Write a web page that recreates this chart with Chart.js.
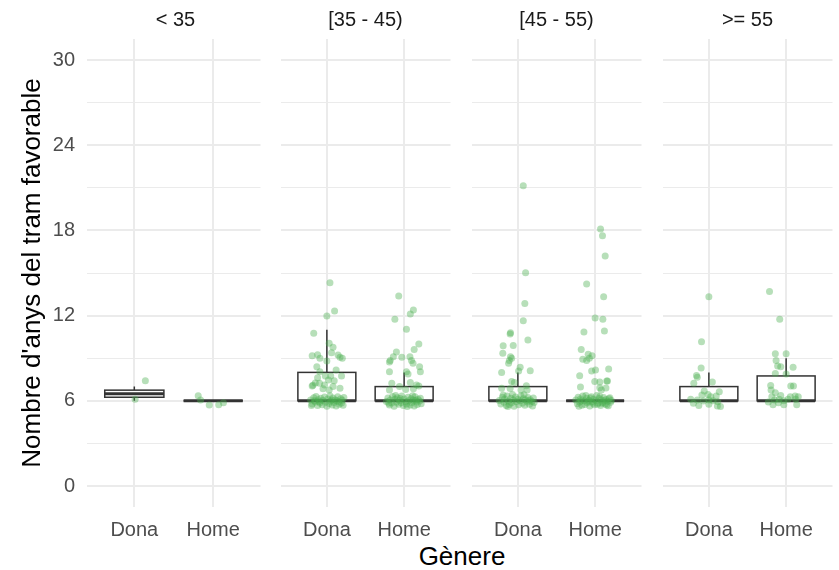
<!DOCTYPE html>
<html>
<head>
<meta charset="utf-8">
<script src="https://cdn.jsdelivr.net/npm/chart.js@4.4.1/dist/chart.umd.min.js"></script>
<style>
body { margin: 0; background: #fff; font-family: "Liberation Sans", Arial, sans-serif; }
#wrap { position: relative; width: 839px; height: 570px; overflow: hidden; background: #fff; }
#wrap canvas { position: absolute; top: 0; }
.strip { position: absolute; top: 7px; width: 177px; text-align: center; font-size: 20px; line-height: 24px; color: #1a1a1a; }
#xtitle { position: absolute; top: 541px; left: 87px; width: 750px; text-align: center; font-size: 26px; line-height: 30px; color: #000; }
</style>
</head>
<body>
<div id="wrap">
  <div id="xtitle">Gènere</div>
</div>
<script>
// facets (age groups) and categories
const facetLabels = ['< 35', '[35 - 45)', '[45 - 55)', '>= 55'];
const genders = ['Dona', 'Home'];
const yTickValues = [0, 3, 6, 9, 12, 15, 18, 21, 24, 27, 30];

// boxplot stats, one pair [Dona, Home] per facet
const boxLower    = [[6.25, 6], [6, 6], [6, 6], [6, 6]];
const boxMedian   = [[6.5, 6], [6, 6], [6, 6], [6, 6]];
const boxUpper    = [[6.75, 6], [8, 7], [7, 6], [7, 7.75]];
const whiskerLow  = [[6, 6], [6, 6], [6, 6], [6, 6]];
const whiskerHigh = [[7, 6], [11, 8], [8, 6], [8, 9]];

// jittered points: [x jitter, value]
const ptsLt35Dona = [[0.14, 7.42], [0.01, 6.1]];
const ptsLt35Home = [[-0.19, 6.36], [-0.16, 6.05], [-0.05, 5.7], [0.07, 5.72], [0.13, 5.87]];

const pts35Dona = [
  [0.04, 14.32], [0.10, 12.32], [0.0, 11.97], [-0.17, 10.75], [0.03, 10.05], [0.08, 9.77], [0.06, 9.39],
  [-0.19, 9.18], [-0.12, 9.24], [-0.09, 8.99], [0.145, 9.22], [0.17, 9.06], [0.2, 8.99], [0.0, 8.8],
  [-0.13, 8.4], [-0.09, 8.05], [0.12, 8.17], [-0.02, 7.75], [0.05, 7.75], [0.19, 7.75], [-0.12, 7.63],
  [0.02, 7.46], [0.095, 7.42], [-0.095, 7.23], [-0.03, 7.11], [-0.19, 7.04], [0.08, 7.0], [0.17, 6.88],
  [-0.05, 6.84], [0.03, 6.76], [-0.18, 7.09], [-0.15, 7.25],
  [-0.21, 6.05], [-0.19, 5.78], [-0.17, 6.22], [-0.15, 5.92], [-0.14, 6.31], [-0.12, 5.67], [-0.11, 6.08],
  [-0.09, 5.85], [-0.08, 6.18], [-0.06, 5.72], [-0.05, 6.02], [-0.03, 6.27], [-0.02, 5.9], [0.0, 5.62],
  [0.01, 6.12], [0.03, 5.81], [0.04, 6.35], [0.05, 5.97], [0.07, 5.7], [0.08, 6.2], [0.09, 5.88],
  [0.11, 6.05], [0.12, 5.64], [0.14, 6.28], [0.15, 5.93], [0.16, 5.76], [0.18, 6.14], [0.19, 5.84],
  [0.2, 6.03], [0.21, 5.69], [0.22, 6.24], [-0.2, 5.66], [-0.16, 6.0], [-0.1, 5.95], [0.06, 6.05], [0.13, 6.0]
];
const pts35Home = [
  [-0.07, 13.38], [0.12, 12.39], [0.08, 12.11], [-0.12, 11.74], [0.03, 11.03], [0.19, 10.0], [0.13, 9.62],
  [-0.1, 9.44], [-0.14, 9.11], [-0.03, 9.06], [0.075, 9.11], [-0.18, 8.83], [0.095, 8.83], [-0.19, 8.74],
  [0.115, 8.64], [0.2, 8.4], [0.21, 8.05], [-0.19, 8.05], [0.03, 8.05], [0.05, 7.89], [0.08, 7.28],
  [-0.16, 7.23], [0.16, 7.11], [0.19, 7.04], [-0.06, 7.0], [-0.19, 6.76], [0.02, 6.8], [0.12, 6.85],
  [-0.23, 5.95], [-0.21, 6.2], [-0.19, 5.7], [-0.18, 6.05], [-0.16, 5.85], [-0.15, 6.3], [-0.13, 5.62],
  [-0.12, 6.1], [-0.1, 5.9], [-0.09, 6.22], [-0.07, 5.75], [-0.06, 6.02], [-0.04, 5.86], [-0.03, 6.33],
  [-0.01, 5.66], [0.0, 6.12], [0.02, 5.94], [0.03, 5.78], [0.05, 6.25], [0.06, 6.0], [0.08, 5.7],
  [0.09, 6.15], [0.1, 5.88], [0.12, 6.06], [0.13, 5.63], [0.14, 6.28], [0.16, 5.92], [0.17, 5.74],
  [0.18, 6.1], [0.2, 5.98], [0.21, 6.18], [0.22, 5.8], [-0.2, 5.82], [-0.11, 6.38], [0.04, 5.6],
  [0.11, 6.36], [-0.05, 6.16], [0.15, 6.04]
];

const pts45Dona = [
  [0.07, 21.15], [0.1, 15.02], [0.09, 12.86], [0.07, 11.64], [0.13, 10.28], [-0.095, 10.8], [-0.1, 10.7],
  [-0.19, 9.88], [-0.06, 9.9], [-0.195, 9.34], [-0.095, 9.11], [-0.08, 9.0], [-0.11, 8.83], [-0.12, 8.64],
  [0.03, 8.36], [0.01, 8.1], [0.16, 8.12], [-0.21, 8.0], [-0.08, 7.35], [-0.045, 7.28], [0.11, 7.06],
  [-0.21, 6.88], [-0.1, 6.87], [0.04, 6.76], [0.12, 6.76],
  [-0.24, 6.02], [-0.22, 5.78], [-0.2, 6.25], [-0.18, 5.9], [-0.17, 6.12], [-0.15, 5.66], [-0.14, 6.33],
  [-0.12, 5.97], [-0.11, 5.74], [-0.09, 6.18], [-0.08, 5.86], [-0.06, 6.06], [-0.05, 5.62], [-0.03, 6.27],
  [-0.02, 5.93], [0.0, 6.1], [0.01, 5.72], [0.03, 6.0], [0.04, 6.36], [0.06, 5.83], [0.07, 6.15],
  [0.09, 5.68], [0.1, 6.05], [0.12, 5.91], [0.13, 6.24], [0.15, 5.76], [0.16, 6.08], [0.18, 5.95],
  [0.19, 5.64], [0.2, 6.2], [0.21, 5.88], [-0.19, 6.4], [-0.07, 6.45], [0.08, 6.42], [-0.13, 5.6], [0.14, 6.0]
];
const pts45Home = [
  [0.07, 18.1], [0.095, 17.63], [0.13, 16.2], [-0.11, 14.23], [0.11, 13.33], [0.0, 11.83], [0.1, 11.74],
  [0.12, 10.92], [-0.145, 10.85], [-0.18, 9.62], [-0.09, 9.27], [-0.04, 9.18], [-0.16, 8.92], [-0.11, 8.83],
  [-0.075, 9.0], [0.175, 8.24], [-0.045, 8.1], [0.005, 8.17], [-0.2, 7.77], [-0.005, 7.35], [0.06, 7.32],
  [0.15, 7.39], [0.16, 7.4], [-0.19, 6.97], [0.06, 6.92], [0.14, 6.9], [0.08, 6.76],
  [-0.25, 6.05], [-0.23, 5.8], [-0.22, 6.25], [-0.2, 5.92], [-0.19, 6.12], [-0.17, 5.68], [-0.16, 6.34],
  [-0.14, 5.98], [-0.13, 5.74], [-0.11, 6.18], [-0.1, 5.86], [-0.08, 6.04], [-0.07, 5.63], [-0.05, 6.28],
  [-0.04, 5.94], [-0.02, 6.1], [-0.01, 5.72], [0.01, 6.0], [0.02, 6.37], [0.04, 5.84], [0.05, 6.16],
  [0.07, 5.67], [0.08, 6.06], [0.1, 5.9], [0.11, 6.23], [0.13, 5.78], [0.14, 6.09], [0.16, 5.96],
  [0.17, 5.65], [0.19, 6.21], [0.2, 5.89], [0.21, 6.02], [-0.21, 5.62], [-0.12, 6.38], [-0.03, 5.83],
  [0.06, 6.3], [0.15, 5.7], [-0.18, 6.0], [-0.06, 6.2], [0.03, 5.76], [0.12, 6.0], [0.18, 6.14],
  [-0.09, 5.95], [0.09, 5.82]
];

const pts55Dona = [
  [0.0, 13.33], [-0.095, 10.16], [-0.1, 8.31], [-0.16, 7.79], [-0.15, 7.65], [-0.195, 7.23], [0.045, 7.32],
  [-0.06, 6.69], [0.135, 6.64], [-0.09, 6.41], [-0.01, 6.45], [0.025, 6.29], [0.095, 6.33], [-0.235, 6.1],
  [-0.15, 6.06], [-0.07, 5.99], [0.0, 6.06], [0.054, 6.01], [0.116, 5.94], [-0.2, 5.82], [-0.13, 5.66],
  [0.0, 5.75], [0.11, 5.63], [0.15, 5.6]
];
const pts55Home = [
  [-0.215, 13.69], [-0.083, 11.74], [-0.14, 9.32], [0.0, 9.32], [-0.13, 8.83], [-0.11, 8.45], [-0.07, 8.4],
  [0.09, 8.36], [-0.14, 7.93], [0.0, 7.89], [-0.2, 7.07], [0.06, 7.04], [0.095, 7.04], [-0.195, 6.76],
  [-0.14, 6.57], [-0.185, 6.29], [-0.07, 6.38], [0.054, 6.29], [0.116, 6.33], [0.157, 6.29], [-0.15, 6.05],
  [-0.09, 6.1], [-0.03, 6.01], [0.025, 6.1], [0.124, 6.1], [-0.23, 5.92], [-0.17, 5.73], [-0.03, 5.73],
  [0.137, 5.73], [-0.1, 5.87]
];

const facetPoints = [
  [ptsLt35Dona, ptsLt35Home],
  [pts35Dona, pts35Home],
  [pts45Dona, pts45Home],
  [pts55Dona, pts55Home]
];

// panel layout (pixels)
const panelLeft = [87, 277, 468, 659];
const panelW = 177;
const yAxisW = 87;
const gridCol = '#ebebeb';
const boxHalf = 0.375;

const wrap = document.getElementById('wrap');

function boxPlugin(f) {
  return {
    id: 'boxes' + f,
    beforeDatasetsDraw(chart) {
      const ctx = chart.ctx;
      const xs = chart.scales.x, ys = chart.scales.y;
      ctx.save();
      for (let g = 0; g < genders.length; g++) {
        const cx = xs.getPixelForValue(g + 1);
        const x1 = xs.getPixelForValue(g + 1 - boxHalf);
        const x2 = xs.getPixelForValue(g + 1 + boxHalf);
        const yLo = ys.getPixelForValue(boxLower[f][g]);
        const yHi = ys.getPixelForValue(boxUpper[f][g]);
        const yMed = ys.getPixelForValue(boxMedian[f][g]);
        const wLo = ys.getPixelForValue(whiskerLow[f][g]);
        const wHi = ys.getPixelForValue(whiskerHigh[f][g]);
        ctx.strokeStyle = '#333333';
        ctx.lineWidth = 1.5;
        // whiskers
        ctx.beginPath();
        ctx.moveTo(cx, yHi); ctx.lineTo(cx, wHi);
        ctx.moveTo(cx, yLo); ctx.lineTo(cx, wLo);
        ctx.stroke();
        // box
        ctx.fillStyle = '#ffffff';
        ctx.fillRect(x1, yHi, x2 - x1, yLo - yHi);
        ctx.strokeRect(x1, yHi, x2 - x1, yLo - yHi);
        // median
        ctx.lineWidth = 3;
        ctx.beginPath();
        ctx.moveTo(x1, yMed); ctx.lineTo(x2, yMed);
        ctx.stroke();
      }
      ctx.restore();
    }
  };
}

function makePanel(f) {
  const first = f === 0;
  const cv = document.createElement('canvas');
  const w = first ? panelLeft[0] + panelW : panelW;
  cv.width = w; cv.height = 545;
  cv.style.left = (first ? 0 : panelLeft[f]) + 'px';
  cv.style.width = w + 'px'; cv.style.height = '545px';
  wrap.appendChild(cv);

  const strip = document.createElement('div');
  strip.className = 'strip';
  strip.style.left = panelLeft[f] + 'px';
  strip.textContent = facetLabels[f];
  wrap.appendChild(strip);

  const pts = [];
  facetPoints[f].forEach((arr, g) => arr.forEach(p => pts.push({x: g + 1 + p[0], y: p[1]})));

  new Chart(cv, {
    type: 'scatter',
    data: {
      datasets: [{
        data: pts,
        backgroundColor: 'rgba(76,175,80,0.4)',
        borderWidth: 0,
        pointRadius: 3.5,
        pointHoverRadius: 3.5
      }]
    },
    options: {
      responsive: false,
      devicePixelRatio: 1,
      animation: false,
      layout: { padding: { top: 39, left: 0, right: 0, bottom: 0 } },
      plugins: { legend: { display: false }, tooltip: { enabled: false } },
      scales: {
        x: {
          type: 'linear', min: 0.4, max: 2.6,
          afterBuildTicks: s => { s.ticks = genders.map((g, i) => ({ value: i + 1 })); },
          afterFit: s => { s.height = 38; },
          ticks: {
            callback: v => genders[Math.round(v) - 1],
            font: { family: 'Liberation Sans', size: 20 }, color: '#4d4d4d', padding: 11,
            maxRotation: 0, autoSkip: false
          },
          grid: { color: gridCol, lineWidth: 2, drawTicks: false },
          border: { display: false }
        },
        y: {
          min: -1.48, max: 31.48,
          afterBuildTicks: s => { s.ticks = yTickValues.map(v => ({ value: v })); },
          afterFit: s => { s.width = first ? yAxisW : 0; },
          ticks: {
            display: first,
            callback: v => (v % 6 === 0 ? String(v) : ''),
            font: { family: 'Liberation Sans', size: 20 }, color: '#4d4d4d', padding: 12
          },
          grid: {
            color: gridCol, drawTicks: false,
            lineWidth: c => (c.tick && c.tick.value % 6 === 0 ? 2 : 1)
          },
          border: { display: false },
          title: {
            display: first, text: "Nombre d'anys del tram favorable",
            font: { family: 'Liberation Sans', size: 26 }, color: '#000', padding: { top: 17, bottom: 0 }
          }
        }
      }
    },
    plugins: [boxPlugin(f)]
  });
}

for (let f = 0; f < facetLabels.length; f++) makePanel(f);
</script>
</body>
</html>
